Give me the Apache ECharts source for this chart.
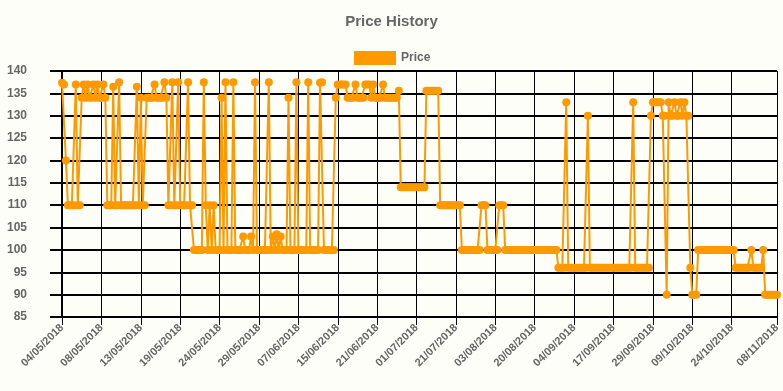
<!DOCTYPE html>
<html>
<head>
<meta charset="utf-8">
<script src="https://cdn.jsdelivr.net/npm/echarts@6/dist/echarts.min.js"></script>
<style>
html,body{margin:0;padding:0;background:#fefef8;}
#chart{width:783px;height:391px;}
</style>
</head>
<body>
<div id="chart"></div>
<script>
// Tick labels (dates) and the category index at which each is shown
const tickLabels = ['04/05/2018','08/05/2018','13/05/2018','19/05/2018','24/05/2018','29/05/2018','07/06/2018','15/06/2018','21/06/2018','01/07/2018','21/07/2018','03/08/2018','20/08/2018','04/09/2018','17/09/2018','29/09/2018','09/10/2018','24/10/2018','08/11/2018'];
const tickIndex = [0,20,40,60,80,100,120,140,160,180,200,220,240,260,280,300,320,340,363];

const prices = [
137.4,137,120,110,110,110,110,137,110,110,
134,137,134,137,134,134,137,134,137,134,
134,137,134,110,110,110,136.5,110,110,137.5,
110,110,110,110,110,110,110,110,136.5,110,
134,110,110,134,134,134,134,137,134,134,
134,134,137.5,134,110,110,137.5,110,110,137.5,
110,110,110,110,137.5,110,110,100,100,100,
100,100,137.5,110,100,110,100,110,100,100,
100,134,100,137.5,100,100,100,137.5,100,100,
100,100,103,100,100,100,103,100,137.5,100,
100,100,100,100,100,137.5,100,103,100,103.5,
100,103,100,100,100,134,100,100,100,137.5,
100,100,100,100,100,137.5,100,100,100,100,
100,137.4,137.5,100,100,100,100,100,100,134,
137,137,137,137,137,134,134,134,134,137,
134,134,134,134,137,137,137,134,137,134,
134,134,134,137,134,134,134,134,134,134,
134,135.6,114,114,114,114,114,114,114,114,
114,114,114,114,114,135.6,135.6,135.6,135.6,135.6,
135.6,135.6,110,110,110,110,110,110,110,110,
110,110,110,100,100,100,100,100,100,100,
100,100,100,110,110,110,100,100,100,100,
100,100,110,110,110,100,100,100,100,100,
100,100,100,100,100,100,100,100,100,100,
100,100,100,100,100,100,100,100,100,100,
100,100,96,96,96,96,133,96,96,96,
96,96,96,96,96,96,96,130,96,96,
96,96,96,96,96,96,96,96,96,96,
96,96,96,96,96,96,96,96,96,96,
133,96,96,96,96,96,96,96,96,130,
133,133,133,133,133,130,130,90,133,130,
130,133,130,130,133,130,133,130,130,96,
90,90,90,100,100,100,100,100,100,100,
100,100,100,100,100,100,100,100,100,100,
100,100,96,96,96,96,96,96,96,96,
100,96,96,96,96,96,100,90,90,90,
90,90,90,90
];

const categories = prices.map((_, i) => String(i));
const labelAt = {};
tickIndex.forEach((ix, k) => { labelAt[ix] = tickLabels[k]; });
const showTick = (i) => labelAt[i] !== undefined;

const chart = echarts.init(document.getElementById('chart'), null, {renderer: 'canvas'});
const font = 'Liberation Sans, Arial, sans-serif';
chart.setOption({
  backgroundColor: '#fefef8',
  animation: false,
  title: {
    text: 'Price History',
    left: 'center',
    top: 9,
    textStyle: {fontFamily: font, fontSize: 15, fontWeight: 'bold', color: '#666666'}
  },
  legend: {
    data: ['Price'],
    top: 46,
    left: 349,
    icon: 'rect',
    itemWidth: 42,
    itemHeight: 14,
    itemGap: 5,
    textStyle: {fontFamily: font, fontSize: 12, fontWeight: 'bold', color: '#666666'}
  },
  grid: {left: 62, right: 6, top: 71, bottom: 74, containLabel: false},
  xAxis: {
    type: 'category',
    data: categories,
    boundaryGap: false,
    axisLine: {show: true, lineStyle: {color: '#000', width: 1}},
    axisTick: {show: true, interval: showTick, length: 8, lineStyle: {color: '#000', width: 1}},
    splitLine: {show: true, interval: showTick, lineStyle: {color: '#000', width: 1}},
    axisLabel: {
      interval: showTick,
      rotate: 45,
      margin: 9,
      formatter: (v, i) => labelAt[i] || '',
      fontFamily: font, fontSize: 11, fontWeight: 'bold', color: '#666666'
    }
  },
  yAxis: {
    type: 'value',
    min: 85,
    max: 140,
    interval: 5,
    axisLine: {show: true, lineStyle: {color: '#000', width: 2}},
    axisTick: {show: true, length: 12, lineStyle: {color: '#000', width: 2}},
    splitLine: {show: true, lineStyle: {color: '#000', width: 2}},
    axisLabel: {margin: 35, fontFamily: font, fontSize: 12, fontWeight: 'bold', color: '#666666'}
  },
  series: [{
    name: 'Price',
    type: 'line',
    data: prices,
    showAllSymbol: true,
    symbol: 'circle',
    symbolSize: 8,
    itemStyle: {color: '#FF9900'},
    lineStyle: {color: '#FF9900', width: 2}
  }]
});
</script>
</body>
</html>
